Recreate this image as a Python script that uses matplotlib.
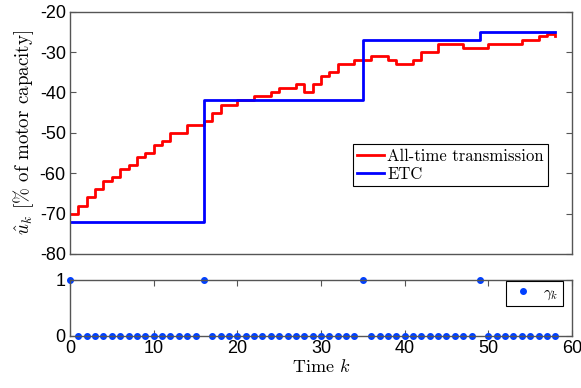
import numpy as np
import matplotlib
matplotlib.use('Agg')
import matplotlib.pyplot as plt

plt.rcParams['axes.unicode_minus'] = False
plt.rcParams['mathtext.fontset'] = 'cm'
plt.rcParams['font.family'] = 'Liberation Sans'

# control input with transmission at every step
k = np.arange(59)
u_all = [-70, -68, -66, -64, -62, -61, -59, -58, -56, -55,
         -53, -52, -50, -50, -48, -48, -47, -45, -43, -43,
         -42, -42, -41, -41, -40, -39, -39, -38, -40, -38,
         -36, -35, -33, -33, -32, -32, -31, -31, -32, -33,
         -33, -32, -30, -30, -28, -28, -28, -29, -29, -29,
         -28, -28, -28, -28, -27, -27, -26, -25.5, -26]

# event-triggered control: instants where a transmission happened and the sent value
tx_times = [0, 16, 35, 49]
tx_values = [-72, -42, -27, -25]

gamma = np.zeros(len(k))
gamma[tx_times] = 1
u_etc = np.zeros(len(k))
for t, v in zip(tx_times, tx_values):
    u_etc[t:] = v

serif = 'cmr10'
spine_col = '#555555'

fig = plt.figure(figsize=(5.81, 3.88), dpi=100)
ax1 = fig.add_axes([0.1205, 0.3454, 0.864, 0.6246])
ax2 = fig.add_axes([0.1205, 0.1348, 0.864, 0.1436])

ax1.step(k, u_all, where='post', color='#ff0000', lw=2, label='All-time transmission')
ax1.step(k, u_etc, where='post', color='#0000ff', lw=2, label='ETC')
ax1.set_xlim(0, 60)
ax1.set_ylim(-80, -20)
ax1.set_yticks(np.arange(-80, -19, 10))
ax1.set_xticks([])
ax1.tick_params(axis='y', direction='in', right=True, labelsize=13, length=4,
                color=spine_col, pad=3)
ax1.set_ylabel(r'$\hat{u}_k$ [% of motor capacity]', fontfamily=serif, fontsize=13.7, labelpad=3)
leg1 = ax1.legend(loc='lower right', bbox_to_anchor=(0.952, 0.281), borderaxespad=0,
                  prop={'family': serif, 'size': 12}, fancybox=False, edgecolor='black',
                  framealpha=1, handlelength=1.6, handletextpad=0.2, borderpad=0.25,
                  labelspacing=0.15)
leg1.get_frame().set_linewidth(0.8)

ax2.plot(k, gamma, '.', color='#0040ff', ms=8, clip_on=False, label=r'$\gamma_k$')
ax2.set_xlim(0, 60)
ax2.set_ylim(0, 1)
ax2.set_yticks([0, 1])
ax2.set_xticks(np.arange(0, 61, 10))
ax2.tick_params(direction='in', top=True, right=True, labelsize=13, length=4,
                color=spine_col, pad=3)
ax2.set_xlabel(r'Time $k$', fontfamily=serif, fontsize=13, labelpad=1)
leg2 = ax2.legend(loc='upper right', bbox_to_anchor=(0.982, 0.982), borderaxespad=0,
                  prop={'size': 11}, fancybox=False, edgecolor='black', framealpha=1,
                  numpoints=1, handlelength=1.6, handletextpad=0.5, borderpad=0.3)
leg2.get_frame().set_linewidth(0.8)

for ax in (ax1, ax2):
    for s in ax.spines.values():
        s.set_color(spine_col)
        s.set_linewidth(1.0)

fig.savefig('out.png', dpi=100)
